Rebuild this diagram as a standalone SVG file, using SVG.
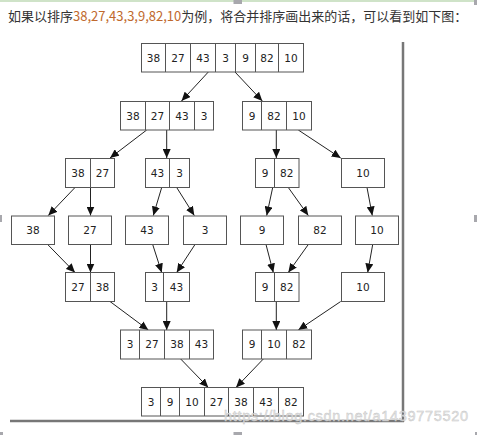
<svg xmlns="http://www.w3.org/2000/svg" width="477" height="435" viewBox="0 0 477 435">
<defs>
<marker id="ah" markerUnits="userSpaceOnUse" markerWidth="10" markerHeight="8" refX="9" refY="4" orient="auto">
<path d="M0,0 L9,4 L0,8 z" fill="#111"/>
</marker>
<style>
.box{fill:#fff;stroke:#555;stroke-width:1}
.div{stroke:#555;stroke-width:1}
.t{font-family:"DejaVu Sans",sans-serif;font-size:10.5px;fill:#222;text-anchor:middle}
.edge{stroke:#222;stroke-width:1;fill:none;marker-end:url(#ah)}
.hd{fill:#a8a8ad}
</style>
</defs>
<rect width="477" height="435" fill="#fff"/>
<line x1="0" y1="1" x2="477" y2="1" stroke="#cfe3c8" stroke-width="2"/>
<g id="handles">
<rect class="hd" x="233.5" y="0" width="8.5" height="4"/>
<rect class="hd" x="474" y="0" width="3" height="5"/>
<rect class="hd" x="0" y="215" width="2" height="7"/>
<rect class="hd" x="474" y="215" width="3" height="7"/>
<rect class="hd" x="0" y="432" width="3" height="3"/>
<rect class="hd" x="233.5" y="432" width="8.5" height="3"/>
<rect class="hd" x="475" y="432" width="2" height="3"/>
</g>
<text x="8" y="21" font-family="'Noto Sans CJK SC',sans-serif" font-size="13" fill="#333">如果以排序<tspan fill="#c0692d">38,27,43,3,9,82,10</tspan>为例，将合并排序画出来的话，可以看到如下图：</text>
<g id="frame">
<line x1="403" y1="42" x2="403" y2="422" stroke="#777" stroke-width="2.5"/>
<line x1="10" y1="421" x2="404" y2="421" stroke="#777" stroke-width="2.5"/>
</g>
<g id="connectors">
<line class="edge" x1="208.3" y1="72" x2="181.5" y2="101"/>
<line class="edge" x1="235" y1="72" x2="262.3" y2="101"/>
<line class="edge" x1="146.7" y1="130" x2="110" y2="158"/>
<line class="edge" x1="166.7" y1="130" x2="166.7" y2="158"/>
<line class="edge" x1="276.3" y1="130" x2="276.3" y2="158"/>
<line class="edge" x1="298.3" y1="130" x2="340.7" y2="158"/>
<line class="edge" x1="75" y1="187.5" x2="48.3" y2="215.5"/>
<line class="edge" x1="90.5" y1="187.5" x2="90.5" y2="215.5"/>
<line class="edge" x1="161.7" y1="187.5" x2="153.3" y2="215.5"/>
<line class="edge" x1="176.7" y1="187.5" x2="194.3" y2="215.5"/>
<line class="edge" x1="272.7" y1="187.5" x2="266.7" y2="215.5"/>
<line class="edge" x1="288.3" y1="187.5" x2="308.3" y2="215.5"/>
<line class="edge" x1="367" y1="187.5" x2="372.3" y2="215.5"/>
<line class="edge" x1="47.7" y1="244.5" x2="75" y2="272.5"/>
<line class="edge" x1="90.5" y1="244.5" x2="90.5" y2="272.5"/>
<line class="edge" x1="152.7" y1="244.5" x2="161.7" y2="272.5"/>
<line class="edge" x1="195" y1="244.5" x2="176.7" y2="272.5"/>
<line class="edge" x1="266" y1="244.5" x2="273.3" y2="272.5"/>
<line class="edge" x1="308.3" y1="244.5" x2="288.3" y2="272.5"/>
<line class="edge" x1="372.7" y1="244.5" x2="367.7" y2="272.5"/>
<line class="edge" x1="110" y1="301.5" x2="148.3" y2="330"/>
<line class="edge" x1="166.7" y1="301.5" x2="166.7" y2="330"/>
<line class="edge" x1="276.3" y1="301.5" x2="276.3" y2="330"/>
<line class="edge" x1="340.7" y1="301.5" x2="298.3" y2="330"/>
<line class="edge" x1="180.7" y1="359" x2="208.3" y2="387.5"/>
<line class="edge" x1="263.3" y1="359" x2="236" y2="387.5"/>
</g>
<g id="n1">
<rect class="box" x="141.5" y="43.5" width="162" height="28.5"/>
<path class="div" d="M165.5,43.5V72M190.5,43.5V72M215.5,43.5V72M235.5,43.5V72M255.5,43.5V72M278.5,43.5V72"/>
<text class="t" y="61.5"><tspan x="153.5">38</tspan><tspan x="178">27</tspan><tspan x="203">43</tspan><tspan x="225.5">3</tspan><tspan x="245.5">9</tspan><tspan x="267">82</tspan><tspan x="291">10</tspan></text>
</g>
<g id="n2a">
<rect class="box" x="120.5" y="101.5" width="93" height="28.5"/>
<path class="div" d="M145.5,101.5V130M169.5,101.5V130M194.5,101.5V130"/>
<text class="t" y="119.5"><tspan x="133">38</tspan><tspan x="157.5">27</tspan><tspan x="182">43</tspan><tspan x="204">3</tspan></text>
</g>
<g id="n2b">
<rect class="box" x="242.5" y="101.5" width="69" height="28.5"/>
<path class="div" d="M261.5,101.5V130M286.5,101.5V130"/>
<text class="t" y="119.5"><tspan x="252">9</tspan><tspan x="274">82</tspan><tspan x="299">10</tspan></text>
</g>
<g id="n3a">
<rect class="box" x="65.5" y="158.5" width="49" height="29"/>
<path class="div" d="M90.5,158.5V187.5"/>
<text class="t" y="176.8"><tspan x="78">38</tspan><tspan x="102.5">27</tspan></text>
</g>
<g id="n3b">
<rect class="box" x="145.5" y="158.5" width="44" height="29"/>
<path class="div" d="M169.5,158.5V187.5"/>
<text class="t" y="176.8"><tspan x="157.5">43</tspan><tspan x="179.5">3</tspan></text>
</g>
<g id="n3c">
<rect class="box" x="255.5" y="158.5" width="43.5" height="29"/>
<path class="div" d="M274.5,158.5V187.5"/>
<text class="t" y="176.8"><tspan x="265">9</tspan><tspan x="286.7">82</tspan></text>
</g>
<g id="n3d">
<rect class="box" x="341.5" y="158.5" width="43" height="29"/>
<text class="t" x="363" y="176.8">10</text>
</g>
<g id="n4a"><rect class="box" x="11.5" y="216" width="43" height="28.5"/><text class="t" x="33" y="234">38</text></g>
<g id="n4b"><rect class="box" x="68.5" y="216" width="43" height="28.5"/><text class="t" x="90" y="234">27</text></g>
<g id="n4c"><rect class="box" x="125.5" y="216" width="43" height="28.5"/><text class="t" x="147" y="234">43</text></g>
<g id="n4d"><rect class="box" x="183.5" y="216" width="43" height="28.5"/><text class="t" x="205" y="234">3</text></g>
<g id="n4e"><rect class="box" x="240.5" y="216" width="43" height="28.5"/><text class="t" x="262" y="234">9</text></g>
<g id="n4f"><rect class="box" x="298.5" y="216" width="43" height="28.5"/><text class="t" x="320" y="234">82</text></g>
<g id="n4g"><rect class="box" x="355.5" y="216" width="43" height="28.5"/><text class="t" x="377" y="234">10</text></g>
<g id="n5a">
<rect class="box" x="65.5" y="272.5" width="49" height="29"/>
<path class="div" d="M90.5,272.5V301.5"/>
<text class="t" y="290.8"><tspan x="78">27</tspan><tspan x="102.5">38</tspan></text>
</g>
<g id="n5b">
<rect class="box" x="145.5" y="272.5" width="44" height="29"/>
<path class="div" d="M163.5,272.5V301.5"/>
<text class="t" y="290.8"><tspan x="154.5">3</tspan><tspan x="176.5">43</tspan></text>
</g>
<g id="n5c">
<rect class="box" x="255.5" y="272.5" width="43.5" height="29"/>
<path class="div" d="M274.5,272.5V301.5"/>
<text class="t" y="290.8"><tspan x="265">9</tspan><tspan x="286.7">82</tspan></text>
</g>
<g id="n5d">
<rect class="box" x="341.5" y="272.5" width="43" height="29"/>
<text class="t" x="363" y="290.8">10</text>
</g>
<g id="n6a">
<rect class="box" x="120.5" y="330" width="93" height="29"/>
<path class="div" d="M139.5,330V359M164.5,330V359M189.5,330V359"/>
<text class="t" y="348.3"><tspan x="130">3</tspan><tspan x="152">27</tspan><tspan x="177">38</tspan><tspan x="201.5">43</tspan></text>
</g>
<g id="n6b">
<rect class="box" x="242.5" y="330" width="69" height="29"/>
<path class="div" d="M261.5,330V359M286.5,330V359"/>
<text class="t" y="348.3"><tspan x="252">9</tspan><tspan x="274">10</tspan><tspan x="299">82</tspan></text>
</g>
<g id="n7">
<rect class="box" x="141.5" y="387.5" width="162" height="28.5"/>
<path class="div" d="M160.5,387.5V416M179.5,387.5V416M204.5,387.5V416M228.5,387.5V416M253.5,387.5V416M278.5,387.5V416"/>
<text class="t" y="405.5"><tspan x="151">3</tspan><tspan x="170">9</tspan><tspan x="192">10</tspan><tspan x="216.5">27</tspan><tspan x="241">38</tspan><tspan x="266">43</tspan><tspan x="291">82</tspan></text>
</g>
<text x="224" y="421" font-family="'Liberation Sans',sans-serif" font-size="14.5" textLength="244" fill="#e2e2e2" fill-opacity="0.85" stroke="#c4c4c4" stroke-width="0.4">https://blog.csdn.net/a1439775520</text>
</svg>
